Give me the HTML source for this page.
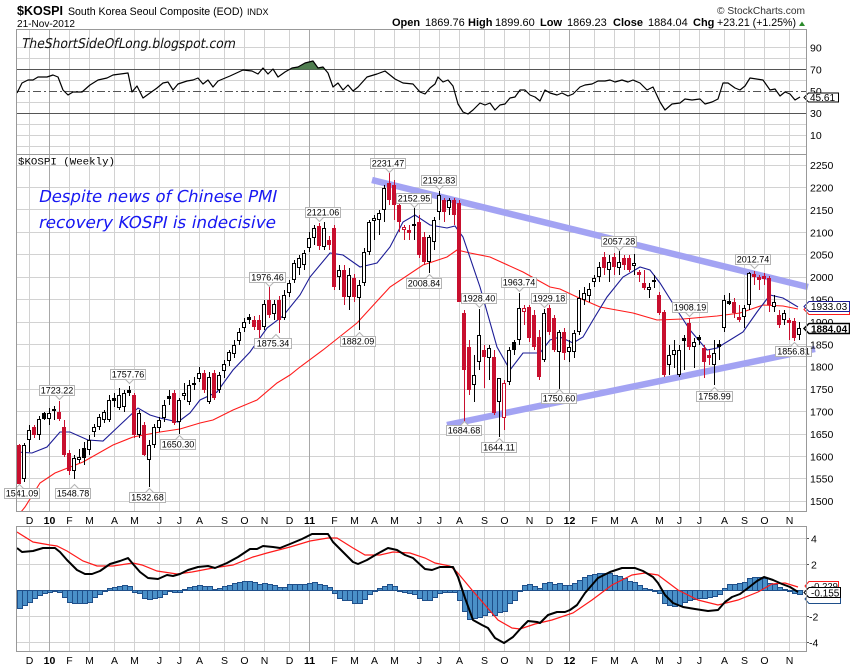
<!DOCTYPE html>
<html><head><meta charset="utf-8"><style>html,body{margin:0;padding:0;background:#fff}svg{display:block}</style></head>
<body>
<svg width="850" height="668" viewBox="0 0 850 668" xmlns="http://www.w3.org/2000/svg" font-family="'Liberation Sans', Arial, sans-serif">
<defs>
<clipPath id="cm"><rect x="17" y="155" width="789" height="356"/></clipPath>
<clipPath id="cr"><rect x="17" y="30" width="789" height="124"/></clipPath>
<clipPath id="cd"><rect x="17" y="527" width="789" height="124"/></clipPath>
</defs>
<rect width="850" height="668" fill="#fff"/>

<!-- HEADER -->
<text x="17" y="15" font-size="13" font-weight="bold" textLength="46" lengthAdjust="spacingAndGlyphs">$KOSPI</text>
<text x="68" y="15" font-size="11" textLength="175" lengthAdjust="spacingAndGlyphs">South Korea Seoul Composite (EOD)</text>
<text x="247" y="15" font-size="9">INDX</text>
<text x="17" y="27" font-size="10" textLength="58" lengthAdjust="spacingAndGlyphs">21-Nov-2012</text>
<text x="717" y="14" font-size="10" fill="#333" textLength="88" lengthAdjust="spacingAndGlyphs">© StockCharts.com</text>
<g font-size="11">
<text x="392" y="26" font-weight="bold">Open</text>
<text x="425" y="26">1869.76</text>
<text x="468" y="26" font-weight="bold">High</text>
<text x="495" y="26">1899.60</text>
<text x="540" y="26" font-weight="bold">Low</text>
<text x="567" y="26">1869.23</text>
<text x="613" y="26" font-weight="bold">Close</text>
<text x="648" y="26">1884.04</text>
<text x="693" y="26" font-weight="bold">Chg</text>
<text x="717" y="26" textLength="79" lengthAdjust="spacingAndGlyphs">+23.21 (+1.25%)</text>
</g>
<polygon points="799,26 805,26 802,21.5" fill="#2a8a2a"/>

<!-- GRID vertical -->
<path stroke="#d2d2d2" stroke-width="1" fill="none" d="M29.5 30V511M69.5 30V511M89.5 30V511M114.5 30V511M134.5 30V511M159.5 30V511M179.5 30V511M199.5 30V511M224.5 30V511M244.5 30V511M264.5 30V511M289.5 30V511M334.5 30V511M354.5 30V511M374.5 30V511M394.5 30V511M419.5 30V511M439.5 30V511M459.5 30V511M484.5 30V511M504.5 30V511M529.5 30V511M549.5 30V511M594.5 30V511M614.5 30V511M634.5 30V511M659.5 30V511M679.5 30V511M699.5 30V511M724.5 30V511M744.5 30V511M764.5 30V511M789.5 30V511
M29.5 527V651M69.5 527V651M89.5 527V651M114.5 527V651M134.5 527V651M159.5 527V651M179.5 527V651M199.5 527V651M224.5 527V651M244.5 527V651M264.5 527V651M289.5 527V651M334.5 527V651M354.5 527V651M374.5 527V651M394.5 527V651M419.5 527V651M439.5 527V651M459.5 527V651M484.5 527V651M504.5 527V651M529.5 527V651M549.5 527V651M594.5 527V651M614.5 527V651M634.5 527V651M659.5 527V651M679.5 527V651M699.5 527V651M724.5 527V651M744.5 527V651M764.5 527V651M789.5 527V651
M17 47.5H806M17 58.5H806M17 80.5H806M17 102.5H806M17 124.5H806M17 135.5H806M17 146.5H806
M17 165.5H806M17 187.5H806M17 209.5H806M17 232.5H806M17 254.5H806M17 277.5H806M17 299.5H806M17 322.5H806M17 344.5H806M17 366.5H806M17 389.5H806M17 411.5H806M17 434.5H806M17 456.5H806M17 478.5H806M17 501.5H806
M17 538.5H806M17 564.5H806M17 590.5H806M17 616.5H806M17 642.5H806"/>
<path stroke="#a8a8a8" stroke-width="1" d="M49.5 30V511M309.5 30V511M569.5 30V511M49.5 527V651M309.5 527V651M569.5 527V651"/>

<!-- RSI panel -->
<path stroke="#555" stroke-width="1" d="M17 69.5H806M17 113.5H806"/>
<path stroke="#555" stroke-width="1" stroke-dasharray="8,3,2,3" d="M17 91.5H806"/>
<polygon fill="#4f7d4f" points="289.4,69.5 292,68 298,67 305,63 313,61 318,68 323,67 325,69.5"/>
<polyline clip-path="url(#cr)" fill="none" stroke="#000" stroke-width="1.2" stroke-linejoin="round" points="17,93 22,83 28,80 33,80 38,77 47,77 53,75 58,77 63,90 68,95 73,92 82,92 90,85 98,80 107,78 113,75 128,73 132,92 137,86 143,98 150,93 157,88 163,83 168,82 173,90 178,84 187,81 193,80 198,78 203,84 208,80 213,87 218,81 230,76 243,70 252,71 258,74 263,68 268,74 273,69 278,77 285,72 292,68 298,67 305,63 313,61 318,68 323,67 328,73 333,87 338,83 343,90 348,85 353,91 358,87 367,77 377,74 385,71 395,79 403,83 413,84 420,92 425,94 430,88 435,84 438,77 443,82 448,80 453,86 458,104 463,112 468,114 473,110 480,103 485,105 490,103 495,110 500,105 505,104 510,98 515,97 520,90 525,90 530,95 535,97 540,101 545,90 550,93 557,95 562,93 568,96 573,94 580,87 585,85 592,84 598,81 605,81 610,80 615,82 622,80 628,82 633,80 640,83 647,90 653,87 660,102 665,110 672,104 680,103 685,99 692,100 700,99 705,104 712,102 718,99 723,83 728,83 735,88 740,90 745,86 750,78 763,80 770,90 775,89 780,96 785,92 790,94 795,100 800,97"/>
<text transform="translate(21,48) skewX(-12)" x="0" y="0" font-family="'DejaVu Sans', sans-serif" font-size="13.5" fill="#111" textLength="214" lengthAdjust="spacingAndGlyphs">TheShortSideOfLong.blogspot.com</text>
<g font-size="10.5">
<text x="810" y="51.5">90</text><text x="810" y="73.5">70</text><text x="810" y="95">50</text><text x="810" y="117">30</text><text x="810" y="139">10</text>
</g>
<polygon points="804,97.5 808.5,93 838.5,93 838.5,102 808.5,102" fill="#fff" stroke="#000"/>
<text x="810" y="101" font-size="10">45.61</text>

<!-- MAIN panel -->
<text x="18" y="164.5" font-family="'Liberation Mono', monospace" font-size="10.5" textLength="97" lengthAdjust="spacingAndGlyphs">$KOSPI (Weekly)</text>
<text transform="translate(38,202) skewX(-12)" x="0" y="0" font-family="'DejaVu Sans', sans-serif" font-size="16.5" fill="#1818f2" textLength="238" lengthAdjust="spacingAndGlyphs">Despite news of Chinese PMI</text>
<text transform="translate(38,228) skewX(-12)" x="0" y="0" font-family="'DejaVu Sans', sans-serif" font-size="16.5" fill="#1818f2" textLength="237" lengthAdjust="spacingAndGlyphs">recovery KOSPI is indecisive</text>

<!-- trend lines -->
<line x1="372" y1="180" x2="808" y2="287" stroke="#a3a3f3" stroke-width="6.5"/>
<line x1="447" y1="425" x2="815" y2="349" stroke="#a3a3f3" stroke-width="6.5"/>

<g clip-path="url(#cm)">
<polyline fill="none" stroke="#ff1a1a" stroke-width="1.1" points="21,512 25,507 40,483 55,473 83,462 113,445 133,437 160,432 180,429 200,423 213,420 233,410 257,400 277,383 290,375 300,367 323,350 357,323 390,287 423,265 447,257 457,250 470,253 490,257 523,272 550,287 560,289 577,297 600,307 633,313 657,320 683,319 717,316 740,313 763,305 783,306 798,309"/>
<polyline fill="none" stroke="#1c1c96" stroke-width="1.1" points="17,452 32,453 47,447 60,432 70,432 88,440 103,441 120,425 138,408 150,415 160,418 178,422 190,413 200,400 217,392 233,370 250,352 267,328 283,316 300,295 310,277 330,253 343,255 360,267 377,263 390,247 403,222 415,215 430,225 447,228 455,226 463,237 480,287 497,347 510,370 523,353 540,353 550,340 560,337 573,343 583,337 593,320 607,297 623,277 640,267 650,270 660,283 677,310 690,330 707,350 717,348 730,340 743,332 757,312 770,295 783,298 798,307"/>
</g>

<!-- wicks -->
<path stroke="#000" stroke-width="1" fill="none" d="M24.5 443V482M29.5 425V452M39.5 416V440M44.5 412V420M49.5 408V425M54.5 406V420M74.5 455V479M79.5 449V463M84.5 442V465M89.5 435V455M94.5 424V437M99.5 414V430M104.5 410V423M109.5 395V422M114.5 393V407M119.5 388V410M124.5 390V412M129.5 386V396M139.5 410V438M149.5 440V487M154.5 424V448M159.5 417V432M164.5 400V422M169.5 390V405M179.5 398V434M184.5 383V400M189.5 380V405M194.5 377V390M199.5 367V382M209.5 372V404M219.5 372V393M224.5 360V378M229.5 350V366M234.5 340V358M239.5 328V345M244.5 318V332M249.5 314V324M264.5 300V330M274.5 300V320M284.5 290V320M289.5 280V297M294.5 260V283M299.5 255V275M304.5 250V270M309.5 232V252M314.5 225V245M324.5 222V250M339.5 265V290M349.5 268V310M359.5 280V330M364.5 248V286M369.5 220V255M374.5 215V240M379.5 210V235M384.5 185V222M414.5 208V240M429.5 235V273M434.5 217V250M439.5 191V220M449.5 198V215M474.5 355V402M479.5 309V370M489.5 345V380M499.5 378V437M509.5 347V385M514.5 340V355M519.5 293V345M544.5 309V362M559.5 330V389M569.5 340V362M574.5 330V358M579.5 290V335M584.5 287V305M589.5 283V302M594.5 275V287M599.5 262V282M609.5 255V282M619.5 251V275M634.5 254V275M649.5 283V298M654.5 275V288M669.5 345V375M674.5 340V368M679.5 345V377M684.5 335V370M694.5 338V368M699.5 335V345M714.5 340V385M719.5 340V360M724.5 295V332M729.5 293V305M744.5 305V328M749.5 272V310M774.5 295V312M784.5 310V325M799.5 322V340"/>
<path stroke="#c80f2e" stroke-width="1" fill="none" d="M19.5 444V486M34.5 425V438M59.5 401V421M64.5 420V457M69.5 450V475M134.5 393V438M144.5 422V456M174.5 390V425M204.5 370V393M214.5 370V400M254.5 316V330M259.5 315V338M269.5 287V318M279.5 296V333M319.5 223V250M329.5 236V250M334.5 225V290M344.5 265V305M354.5 274V302M389.5 173V205M394.5 180V220M399.5 200V232M404.5 225V240M409.5 225V240M419.5 215V258M424.5 232V265M444.5 198V222M454.5 198V225M459.5 200V302M464.5 310V424M469.5 340V395M484.5 345V388M494.5 350V415M504.5 380V430M524.5 305V325M529.5 305V342M534.5 310V350M539.5 330V380M549.5 305V335M554.5 315V352M564.5 328V360M604.5 252V275M614.5 253V275M624.5 255V270M629.5 255V272M639.5 270V282M644.5 270V290M659.5 292V315M664.5 310V377M689.5 318V350M704.5 345V378M709.5 350V365M734.5 298V318M739.5 305V322M754.5 271V285M759.5 275V290M764.5 273V285M769.5 276V312M779.5 310V328M789.5 318V340M794.5 318V341"/>
<!-- hollow bodies -->
<path fill="#fff" stroke="#000" stroke-width="1" d="M22.5 445.5h3V478.5h-3ZM27.5 430.5h3V439.5h-3ZM37.5 419.5h3V434.5h-3ZM47.5 413.5h3V418.5h-3ZM52.5 409.5h3V410.5h-3ZM72.5 458.5h3V470.5h-3ZM77.5 457.5h3V459.5h-3ZM87.5 440.5h3V449.5h-3ZM92.5 427.5h3V431.5h-3ZM97.5 417.5h3V426.5h-3ZM102.5 412.5h3V419.5h-3ZM107.5 400.5h3V419.5h-3ZM117.5 395.5h3V407.5h-3ZM122.5 393.5h3V406.5h-3ZM137.5 413.5h3V434.5h-3ZM147.5 445.5h3V459.5h-3ZM152.5 427.5h3V444.5h-3ZM157.5 420.5h3V427.5h-3ZM162.5 405.5h3V417.5h-3ZM177.5 400.5h3V421.5h-3ZM182.5 393.5h3V395.5h-3ZM187.5 385.5h3V401.5h-3ZM192.5 383.5h3V384.5h-3ZM197.5 373.5h3V378.5h-3ZM207.5 377.5h3V401.5h-3ZM217.5 375.5h3V389.5h-3ZM222.5 364.5h3V370.5h-3ZM227.5 352.5h3V360.5h-3ZM232.5 345.5h3V353.5h-3ZM237.5 332.5h3V340.5h-3ZM242.5 322.5h3V327.5h-3ZM262.5 304.5h3V326.5h-3ZM272.5 304.5h3V313.5h-3ZM282.5 295.5h3V317.5h-3ZM287.5 283.5h3V292.5h-3ZM292.5 263.5h3V279.5h-3ZM297.5 258.5h3V267.5h-3ZM302.5 253.5h3V264.5h-3ZM307.5 238.5h3V247.5h-3ZM312.5 228.5h3V237.5h-3ZM322.5 228.5h3V246.5h-3ZM337.5 270.5h3V276.5h-3ZM347.5 275.5h3V296.5h-3ZM357.5 285.5h3V297.5h-3ZM362.5 252.5h3V282.5h-3ZM367.5 222.5h3V251.5h-3ZM372.5 218.5h3V220.5h-3ZM377.5 213.5h3V219.5h-3ZM382.5 188.5h3V209.5h-3ZM412.5 224.5h3V225.5h-3ZM427.5 237.5h3V261.5h-3ZM432.5 220.5h3V241.5h-3ZM437.5 195.5h3V211.5h-3ZM447.5 200.5h3V207.5h-3ZM472.5 375.5h3V384.5h-3ZM477.5 335.5h3V361.5h-3ZM487.5 348.5h3V357.5h-3ZM497.5 378.5h3V401.5h-3ZM507.5 350.5h3V381.5h-3ZM517.5 308.5h3V339.5h-3ZM542.5 313.5h3V359.5h-3ZM557.5 332.5h3V351.5h-3ZM567.5 347.5h3V351.5h-3ZM572.5 333.5h3V351.5h-3ZM577.5 298.5h3V331.5h-3ZM582.5 293.5h3V299.5h-3ZM587.5 289.5h3V295.5h-3ZM592.5 278.5h3V281.5h-3ZM597.5 267.5h3V276.5h-3ZM607.5 262.5h3V269.5h-3ZM617.5 262.5h3V267.5h-3ZM632.5 263.5h3V265.5h-3ZM647.5 287.5h3V289.5h-3ZM652.5 280.5h3V281.5h-3ZM667.5 355.5h3V364.5h-3ZM672.5 350.5h3V354.5h-3ZM677.5 350.5h3V374.5h-3ZM692.5 342.5h3V346.5h-3ZM712.5 353.5h3V364.5h-3ZM722.5 300.5h3V327.5h-3ZM742.5 308.5h3V316.5h-3ZM747.5 273.5h3V304.5h-3ZM772.5 302.5h3V306.5h-3ZM782.5 313.5h3V319.5h-3ZM797.5 328.5h3V334.5h-3Z"/>
<path fill="#000" d="M42 413h4V419h-4ZM82 448h4V458h-4ZM112 398h4V401h-4ZM127 390h4V393h-4ZM167 396h4V399h-4ZM247 317h4V320h-4ZM512 342h4V350h-4ZM682 338h4V341h-4ZM697 337h4V340h-4ZM717 344h4V347h-4ZM727 301h4V304h-4Z"/>
<path fill="#c80f2e" d="M17 445h4V484h-4ZM32 427h4V435h-4ZM57 412h4V419h-4ZM62 427h4V455h-4ZM67 453h4V471h-4ZM132 395h4V435h-4ZM142 425h4V455h-4ZM172 393h4V423h-4ZM202 373h4V390h-4ZM212 373h4V398h-4ZM252 320h4V327h-4ZM257 320h4V330h-4ZM267 300h4V315h-4ZM277 300h4V320h-4ZM317 226h4V246h-4ZM327 240h4V245h-4ZM332 228h4V287h-4ZM342 270h4V297h-4ZM352 278h4V297h-4ZM387 183h4V200h-4ZM392 185h4V205h-4ZM397 205h4V222h-4ZM407 230h4V233h-4ZM417 222h4V255h-4ZM422 237h4V262h-4ZM442 200h4V212h-4ZM452 200h4V215h-4ZM457 203h4V302h-4ZM462 313h4V370h-4ZM467 347h4V390h-4ZM482 350h4V357h-4ZM492 357h4V413h-4ZM527 307h4V338h-4ZM532 315h4V347h-4ZM537 337h4V377h-4ZM547 308h4V332h-4ZM552 318h4V350h-4ZM562 332h4V353h-4ZM602 257h4V268h-4ZM612 257h4V267h-4ZM622 258h4V265h-4ZM627 258h4V270h-4ZM637 272h4V275h-4ZM642 283h4V288h-4ZM657 295h4V313h-4ZM662 312h4V375h-4ZM687 323h4V347h-4ZM702 348h4V362h-4ZM707 355h4V358h-4ZM732 302h4V313h-4ZM737 317h4V320h-4ZM752 274h4V277h-4ZM757 277h4V280h-4ZM762 276h4V279h-4ZM767 278h4V305h-4ZM777 315h4V325h-4ZM787 320h4V323h-4ZM792 321h4V338h-4Z"/>
<path fill="#fff" stroke="#c80f2e" stroke-width="1" d="M402.5 227.5h3V229.5h-3ZM502.5 383.5h3V417.5h-3ZM522.5 308.5h3V311.5h-3Z"/>

<!-- value labels -->
<g fill="#fff" stroke="#b4b4b4" stroke-width="1">
<rect x="4.5" y="488.5" width="35" height="10"/><path d="M15.5 488.5L19.5 484.5L23.5 488.5"/>
<rect x="55.5" y="488.5" width="35" height="10"/><path d="M70.5 488.5L74.5 484.5L78.5 488.5"/>
<rect x="129.5" y="492.5" width="36" height="10"/><path d="M145.5 492.5L149.5 488.5L153.5 492.5"/>
<rect x="39.5" y="385.5" width="35" height="10"/><path d="M55.5 395.5L59.5 399.5L63.5 395.5"/>
<rect x="110.5" y="369.5" width="35" height="10"/><path d="M125.5 379.5L129.5 383.5L133.5 379.5"/>
<rect x="160.5" y="439.5" width="35" height="10"/><path d="M175.5 439.5L179.5 435.5L183.5 439.5"/>
<rect x="249.5" y="272.5" width="36" height="10"/><path d="M265.5 282.5L269.5 286.5L273.5 282.5"/>
<rect x="254.5" y="338.5" width="37" height="10"/><path d="M272 338.5L276 334.5L280 338.5"/>
<rect x="305.5" y="207.5" width="35" height="10"/><path d="M315.5 217.5L319.5 221.5L323.5 217.5"/>
<rect x="370.5" y="158.5" width="35" height="10"/><path d="M385.5 168.5L389.5 172.5L393.5 168.5"/>
<rect x="396.5" y="193.5" width="35" height="10"/><path d="M410.5 203.5L414.5 207.5L418.5 203.5"/>
<rect x="421.5" y="175.5" width="35" height="10"/><path d="M435.5 185.5L439.5 189.5L443.5 185.5"/>
<rect x="406.5" y="278.5" width="35" height="10"/><path d="M425.5 278.5L429.5 274.5L433.5 278.5"/>
<rect x="340.5" y="336.5" width="35" height="10"/><path d="M355.5 336.5L359.5 332.5L363.5 336.5"/>
<rect x="461.5" y="293.5" width="35" height="10"/><path d="M475.5 303.5L479.5 307.5L483.5 303.5"/>
<rect x="501.5" y="277.5" width="35" height="10"/><path d="M515.5 287.5L519.5 291.5L523.5 287.5"/>
<rect x="531.5" y="293.5" width="35" height="10"/><path d="M540.5 303.5L544.5 307.5L548.5 303.5"/>
<rect x="446.5" y="425.5" width="35" height="10"/><path d="M460.5 425.5L464.5 421.5L468.5 425.5"/>
<rect x="481.5" y="442.5" width="35" height="10"/><path d="M495.5 442.5L499.5 438.5L503.5 442.5"/>
<rect x="541.5" y="393.5" width="35" height="10"/><path d="M555.5 393.5L559.5 389.5L563.5 393.5"/>
<rect x="601.5" y="236.5" width="35" height="10"/><path d="M615.5 246.5L619.5 250.5L623.5 246.5"/>
<rect x="672.5" y="302.5" width="35" height="10"/><path d="M685.5 312.5L689.5 316.5L693.5 312.5"/>
<rect x="696.5" y="391.5" width="36" height="10"/><path d="M710.5 391.5L714.5 387.5L718.5 391.5"/>
<rect x="735.5" y="254.5" width="35" height="10"/><path d="M750.5 264.5L754.5 268.5L758.5 264.5"/>
<rect x="775.5" y="346.5" width="36" height="10"/><path d="M790.5 346.5L794.5 342.5L798.5 346.5"/>
</g>
<g font-size="9" text-anchor="middle" fill="#000">
<text x="22" y="496.5">1541.09</text>
<text x="73" y="496.5">1548.78</text>
<text x="147.5" y="500.5">1532.68</text>
<text x="57" y="393.5">1723.22</text>
<text x="128" y="377.5">1757.76</text>
<text x="178" y="447.5">1650.30</text>
<text x="267.5" y="280.5">1976.46</text>
<text x="273" y="346.5">1875.34</text>
<text x="323" y="215.5">2121.06</text>
<text x="388" y="166.5">2231.47</text>
<text x="414" y="201.5">2152.95</text>
<text x="439" y="183.5">2192.83</text>
<text x="424" y="286.5">2008.84</text>
<text x="358" y="344.5">1882.09</text>
<text x="479" y="301.5">1928.40</text>
<text x="519" y="285.5">1963.74</text>
<text x="549" y="301.5">1929.18</text>
<text x="464" y="433.5">1684.68</text>
<text x="499" y="450.5">1644.11</text>
<text x="559" y="401.5">1750.60</text>
<text x="619" y="244.5">2057.28</text>
<text x="690" y="310.5">1908.19</text>
<text x="714.5" y="399.5">1758.99</text>
<text x="753" y="262.5">2012.74</text>
<text x="793.5" y="354.5">1856.81</text>
</g>

<!-- price axis -->
<g font-size="10.5" fill="#000">
<text x="810" y="169">2250</text><text x="810" y="191.5">2200</text><text x="810" y="214">2150</text><text x="810" y="236.5">2100</text><text x="810" y="258.5">2050</text><text x="810" y="281">2000</text><text x="810" y="303.5">1950</text><text x="810" y="326">1900</text><text x="810" y="348.5">1850</text><text x="810" y="370.5">1800</text><text x="810" y="393">1750</text><text x="810" y="415.5">1700</text><text x="810" y="438">1650</text><text x="810" y="460.5">1600</text><text x="810" y="482.5">1550</text><text x="810" y="505">1500</text>
</g>
<polygon points="804,309.5 809,304.5 849.5,304.5 849.5,314.5 809,314.5" fill="#fff" stroke="#ff1a1a"/>
<polygon points="804,306.5 809,301.5 849.5,301.5 849.5,311.5 809,311.5" fill="#fff" stroke="#1c1c96"/>
<text x="811" y="310" font-size="10" fill="#000">1933.03</text>
<polygon points="804,328.5 809,323.5 849.5,323.5 849.5,333.5 809,333.5" fill="#fff" stroke="#000" stroke-width="1.5"/>
<text x="811" y="332.5" font-size="10" font-weight="bold">1884.04</text>

<!-- MACD panel -->
<path fill="#4a90c8" stroke="#1f4f8a" stroke-width="1" d="M17.5 590.5V608.5h5V590.5ZM22.5 590.5V605.5h5V590.5ZM27.5 590.5V602.5h5V590.5ZM32.5 590.5V598.5h5V590.5ZM37.5 590.5V595.5h5V590.5ZM42.5 590.5V593.5h5V590.5ZM47.5 590.5V592.5h5V590.5ZM52.5 590.5V591.5h5V590.5ZM57.5 590.5V592.5h5V590.5ZM62.5 590.5V597.5h5V590.5ZM67.5 590.5V602.5h5V590.5ZM72.5 590.5V603.5h5V590.5ZM77.5 590.5V603.5h5V590.5ZM82.5 590.5V603.5h5V590.5ZM87.5 590.5V602.5h5V590.5ZM92.5 590.5V597.5h5V590.5ZM97.5 590.5V594.5h5V590.5ZM102.5 590.5V591.5h5V590.5ZM107.5 590.5V588.5h5V590.5ZM112.5 590.5V587.5h5V590.5ZM117.5 590.5V586.5h5V590.5ZM122.5 590.5V585.5h5V590.5ZM127.5 590.5V586.5h5V590.5ZM132.5 590.5V592.5h5V590.5ZM137.5 590.5V593.5h5V590.5ZM142.5 590.5V598.5h5V590.5ZM147.5 590.5V599.5h5V590.5ZM152.5 590.5V598.5h5V590.5ZM157.5 590.5V597.5h5V590.5ZM162.5 590.5V594.5h5V590.5ZM167.5 590.5V591.5h5V590.5ZM172.5 590.5V592.5h5V590.5ZM177.5 590.5V592.5h5V590.5ZM182.5 590.5V589.5h5V590.5ZM187.5 590.5V587.5h5V590.5ZM192.5 590.5V586.5h5V590.5ZM197.5 590.5V585.5h5V590.5ZM202.5 590.5V586.5h5V590.5ZM207.5 590.5V586.5h5V590.5ZM212.5 590.5V589.5h5V590.5ZM217.5 590.5V588.5h5V590.5ZM222.5 590.5V586.5h5V590.5ZM227.5 590.5V585.5h5V590.5ZM232.5 590.5V583.5h5V590.5ZM237.5 590.5V582.5h5V590.5ZM242.5 590.5V581.5h5V590.5ZM247.5 590.5V581.5h5V590.5ZM252.5 590.5V582.5h5V590.5ZM257.5 590.5V584.5h5V590.5ZM262.5 590.5V583.5h5V590.5ZM267.5 590.5V584.5h5V590.5ZM272.5 590.5V585.5h5V590.5ZM277.5 590.5V587.5h5V590.5ZM282.5 590.5V587.5h5V590.5ZM287.5 590.5V584.5h5V590.5ZM292.5 590.5V584.5h5V590.5ZM297.5 590.5V584.5h5V590.5ZM302.5 590.5V584.5h5V590.5ZM307.5 590.5V583.5h5V590.5ZM312.5 590.5V582.5h5V590.5ZM317.5 590.5V584.5h5V590.5ZM322.5 590.5V585.5h5V590.5ZM327.5 590.5V587.5h5V590.5ZM332.5 590.5V593.5h5V590.5ZM337.5 590.5V598.5h5V590.5ZM342.5 590.5V600.5h5V590.5ZM347.5 590.5V600.5h5V590.5ZM352.5 590.5V603.5h5V590.5ZM357.5 590.5V603.5h5V590.5ZM362.5 590.5V599.5h5V590.5ZM367.5 590.5V594.5h5V590.5ZM372.5 590.5V591.5h5V590.5ZM377.5 590.5V588.5h5V590.5ZM382.5 590.5V586.5h5V590.5ZM387.5 590.5V584.5h5V590.5ZM392.5 590.5V586.5h5V590.5ZM397.5 590.5V591.5h5V590.5ZM402.5 590.5V592.5h5V590.5ZM407.5 590.5V593.5h5V590.5ZM412.5 590.5V594.5h5V590.5ZM417.5 590.5V598.5h5V590.5ZM422.5 590.5V600.5h5V590.5ZM427.5 590.5V600.5h5V590.5ZM432.5 590.5V597.5h5V590.5ZM437.5 590.5V593.5h5V590.5ZM442.5 590.5V592.5h5V590.5ZM447.5 590.5V592.5h5V590.5ZM452.5 590.5V592.5h5V590.5ZM457.5 590.5V600.5h5V590.5ZM462.5 590.5V611.5h5V590.5ZM467.5 590.5V619.5h5V590.5ZM472.5 590.5V618.5h5V590.5ZM477.5 590.5V617.5h5V590.5ZM482.5 590.5V615.5h5V590.5ZM487.5 590.5V612.5h5V590.5ZM492.5 590.5V615.5h5V590.5ZM497.5 590.5V612.5h5V590.5ZM502.5 590.5V611.5h5V590.5ZM507.5 590.5V603.5h5V590.5ZM512.5 590.5V600.5h5V590.5ZM517.5 590.5V591.5h5V590.5ZM522.5 590.5V585.5h5V590.5ZM527.5 590.5V584.5h5V590.5ZM532.5 590.5V586.5h5V590.5ZM537.5 590.5V588.5h5V590.5ZM542.5 590.5V583.5h5V590.5ZM547.5 590.5V582.5h5V590.5ZM552.5 590.5V584.5h5V590.5ZM557.5 590.5V583.5h5V590.5ZM562.5 590.5V585.5h5V590.5ZM567.5 590.5V585.5h5V590.5ZM572.5 590.5V583.5h5V590.5ZM577.5 590.5V580.5h5V590.5ZM582.5 590.5V577.5h5V590.5ZM587.5 590.5V575.5h5V590.5ZM592.5 590.5V574.5h5V590.5ZM597.5 590.5V573.5h5V590.5ZM602.5 590.5V573.5h5V590.5ZM607.5 590.5V573.5h5V590.5ZM612.5 590.5V575.5h5V590.5ZM617.5 590.5V576.5h5V590.5ZM622.5 590.5V578.5h5V590.5ZM627.5 590.5V581.5h5V590.5ZM632.5 590.5V582.5h5V590.5ZM637.5 590.5V585.5h5V590.5ZM642.5 590.5V588.5h5V590.5ZM647.5 590.5V589.5h5V590.5ZM652.5 590.5V591.5h5V590.5ZM657.5 590.5V593.5h5V590.5ZM662.5 590.5V603.5h5V590.5ZM667.5 590.5V605.5h5V590.5ZM672.5 590.5V606.5h5V590.5ZM677.5 590.5V605.5h5V590.5ZM682.5 590.5V602.5h5V590.5ZM687.5 590.5V600.5h5V590.5ZM692.5 590.5V599.5h5V590.5ZM697.5 590.5V598.5h5V590.5ZM702.5 590.5V598.5h5V590.5ZM707.5 590.5V597.5h5V590.5ZM712.5 590.5V596.5h5V590.5ZM717.5 590.5V594.5h5V590.5ZM722.5 590.5V588.5h5V590.5ZM727.5 590.5V584.5h5V590.5ZM732.5 590.5V584.5h5V590.5ZM737.5 590.5V583.5h5V590.5ZM742.5 590.5V582.5h5V590.5ZM747.5 590.5V578.5h5V590.5ZM752.5 590.5V577.5h5V590.5ZM757.5 590.5V577.5h5V590.5ZM762.5 590.5V578.5h5V590.5ZM767.5 590.5V583.5h5V590.5ZM772.5 590.5V584.5h5V590.5ZM777.5 590.5V587.5h5V590.5ZM782.5 590.5V589.5h5V590.5ZM787.5 590.5V591.5h5V590.5ZM792.5 590.5V593.5h5V590.5ZM797.5 590.5V594.5h5V590.5Z"/>
<g clip-path="url(#cd)">
<polyline fill="none" stroke="#ff1a1a" stroke-width="1.2" points="17,532 33,542 50,545 57,546 67,551 83,561 97,566 113,566 133,563 142,565 157,571 177,574 192,572 213,568 233,565 253,557 267,553 290,547 310,541 328,538 337,538 353,548 365,555 380,555 393,552 410,553 425,558 435,563 450,566 457,572 472,590 485,605 498,620 512,628 520,629 535,624 552,620 573,613 592,600 612,585 632,575 645,573 658,575 678,590 698,600 718,605 738,600 758,592 772,584 785,583 798,587"/>
<polyline fill="none" stroke="#000" stroke-width="2" stroke-linejoin="round" points="17,548 22,552 33,551 43,548 55,548 60,552 67,560 77,570 85,574 92,574 100,571 110,564 120,561 128,558 133,564 140,572 148,578 158,579 167,575 173,576 180,574 188,570 198,567 208,566 215,568 227,563 238,557 250,549 257,549 263,546 273,547 280,548 290,544 302,539 312,534 320,534 328,534 333,542 343,552 353,562 358,564 367,560 377,554 388,548 397,550 405,555 413,558 425,569 432,570 440,567 453,567 458,577 465,598 473,620 482,625 488,628 495,638 504,643 513,637 522,627 528,621 537,622 540,623 548,615 557,612 565,612 570,610 577,605 585,593 598,578 610,572 622,568 635,568 643,571 653,577 658,583 665,595 673,603 683,607 695,609 708,611 718,610 725,602 732,597 740,594 748,588 757,581 764,577 773,580 782,584 790,587 798,592"/>
</g>
<path stroke="#555" d="M806 538.5h3M806 564.5h3M806 616.5h3M806 642.5h3"/>
<g font-size="10.5">
<text x="811" y="542.5">4</text><text x="811" y="568.5">2</text><text x="811" y="594.5">0</text><text x="809" y="620.5">-2</text><text x="809" y="646.5">-4</text>
</g>
<polygon points="805,586 809,581.5 838.5,581.5 838.5,591 809,591" fill="#fff" stroke="#ff1a1a"/>
<text x="811" y="589.5" font-size="9.5">-0.229</text>
<polygon points="805,599 809,594.5 840.5,594.5 840.5,603.5 809,603.5" fill="#fff" stroke="#1f4f8a"/>
<polygon points="804,592.5 809,587.5 840.5,587.5 840.5,597.5 809,597.5" fill="#fff" stroke="#000"/>
<text x="811" y="596.5" font-size="10">-0.155</text>

<!-- panel borders -->
<g fill="none" stroke="#999" stroke-width="1">
<rect x="16.5" y="29.5" width="790" height="125"/>
<rect x="16.5" y="154.5" width="790" height="357"/>
<rect x="16.5" y="526.5" width="790" height="125"/>
</g>

<!-- month labels -->
<g font-size="10.5" text-anchor="middle" fill="#000">
<text x="29.5" y="524">D</text><text x="49.5" y="524" font-weight="bold">10</text><text x="69.5" y="524">F</text><text x="89.5" y="524">M</text><text x="114.5" y="524">A</text><text x="134.5" y="524">M</text><text x="159.5" y="524">J</text><text x="179.5" y="524">J</text><text x="199.5" y="524">A</text><text x="224.5" y="524">S</text><text x="244.5" y="524">O</text><text x="264.5" y="524">N</text><text x="289.5" y="524">D</text><text x="309.5" y="524" font-weight="bold">11</text><text x="334.5" y="524">F</text><text x="354.5" y="524">M</text><text x="374.5" y="524">A</text><text x="394.5" y="524">M</text><text x="419.5" y="524">J</text><text x="439.5" y="524">J</text><text x="459.5" y="524">A</text><text x="484.5" y="524">S</text><text x="504.5" y="524">O</text><text x="529.5" y="524">N</text><text x="549.5" y="524">D</text><text x="569.5" y="524" font-weight="bold">12</text><text x="594.5" y="524">F</text><text x="614.5" y="524">M</text><text x="634.5" y="524">A</text><text x="659.5" y="524">M</text><text x="679.5" y="524">J</text><text x="699.5" y="524">J</text><text x="724.5" y="524">A</text><text x="744.5" y="524">S</text><text x="764.5" y="524">O</text><text x="789.5" y="524">N</text>
<text x="29.5" y="664">D</text><text x="49.5" y="664" font-weight="bold">10</text><text x="69.5" y="664">F</text><text x="89.5" y="664">M</text><text x="114.5" y="664">A</text><text x="134.5" y="664">M</text><text x="159.5" y="664">J</text><text x="179.5" y="664">J</text><text x="199.5" y="664">A</text><text x="224.5" y="664">S</text><text x="244.5" y="664">O</text><text x="264.5" y="664">N</text><text x="289.5" y="664">D</text><text x="309.5" y="664" font-weight="bold">11</text><text x="334.5" y="664">F</text><text x="354.5" y="664">M</text><text x="374.5" y="664">A</text><text x="394.5" y="664">M</text><text x="419.5" y="664">J</text><text x="439.5" y="664">J</text><text x="459.5" y="664">A</text><text x="484.5" y="664">S</text><text x="504.5" y="664">O</text><text x="529.5" y="664">N</text><text x="549.5" y="664">D</text><text x="569.5" y="664" font-weight="bold">12</text><text x="594.5" y="664">F</text><text x="614.5" y="664">M</text><text x="634.5" y="664">A</text><text x="659.5" y="664">M</text><text x="679.5" y="664">J</text><text x="699.5" y="664">J</text><text x="724.5" y="664">A</text><text x="744.5" y="664">S</text><text x="764.5" y="664">O</text><text x="789.5" y="664">N</text>
</g>
</svg>
</body></html>
